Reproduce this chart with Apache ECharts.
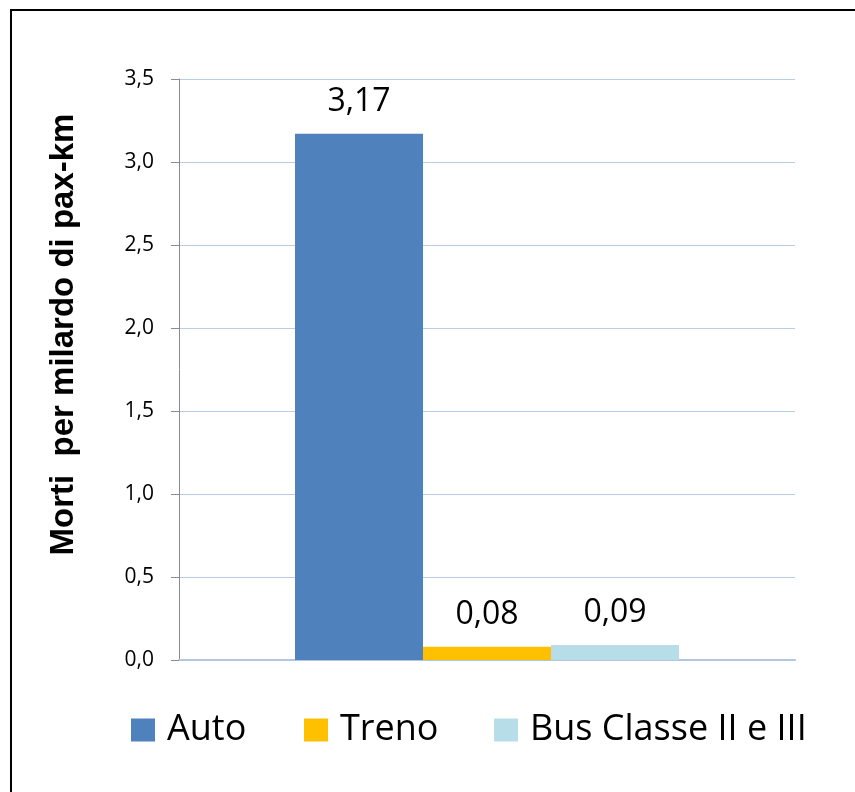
<!DOCTYPE html>
<html>
<head>
<meta charset="utf-8">
<script src="https://cdn.jsdelivr.net/npm/echarts@6/dist/echarts.min.js"></script>
<style>html,body{margin:0;padding:0;background:#fff}#c{width:855px;height:792px}</style>
</head>
<body>
<div id="c"></div>
<script>
var categories = [''];
var seriesNames = ['Auto', 'Treno', 'Bus Classe II e III'];
var autoValues = [3.17];
var trenoValues = [0.08];
var busValues = [0.09];
var yAxisName = 'Morti  per milardo di pax-km';
var colors = ['#4f81bd', '#ffc000', '#b7dde8'];
var legendLefts = [131, 304, 494];

var chart = echarts.init(document.getElementById('c'));
var valuesList = [autoValues, trenoValues, busValues];
function fmt(v) { return v.toFixed(2).replace('.', ','); }
var series = seriesNames.map(function (n, i) {
  return {
    name: n, type: 'bar', data: valuesList[i], barWidth: 128, barGap: '0%',
    itemStyle: { color: colors[i] },
    label: { show: true, position: 'top', distance: 16, color: '#000',
      fontFamily: 'Open Sans', fontSize: 32,
      formatter: function (p) { return fmt(p.value); } }
  };
});
var legends = seriesNames.map(function (n, i) {
  return {
    data: [n], left: legendLefts[i], top: 712, itemWidth: 24, itemHeight: 23,
    icon: 'rect', itemGap: 0, padding: 0,
    textStyle: { fontFamily: 'Open Sans', fontSize: 36, color: '#000', padding: [0, 0, 0, 7] },
    selectedMode: false
  };
});
chart.setOption({
  animation: false,
  graphic: [{ type: 'rect', shape: { x: 11, y: 10, width: 1000, height: 1000 },
    style: { fill: 'none', stroke: '#000', lineWidth: 2 } }],
  legend: legends,
  grid: { left: 179, right: 60, top: 79, bottom: 132 },
  xAxis: { type: 'category', data: categories,
    axisLine: { lineStyle: { color: '#b3c6e0', width: 2 } },
    axisTick: { show: false }, axisLabel: { show: false } },
  yAxis: { type: 'value', min: 0, max: 3.5, interval: 0.5,
    name: yAxisName, nameLocation: 'middle', nameGap: 99,
    nameTextStyle: { fontFamily: 'Liberation Sans', fontWeight: 'bold', fontSize: 33, color: '#000',
      padding: [0, 0, 0, 70] },
    axisLine: { show: true, lineStyle: { color: '#8c8c8c', width: 1 } },
    axisTick: { show: true, length: 8, lineStyle: { color: '#8c8c8c' } },
    axisLabel: { margin: 25, fontFamily: 'Open Sans', fontSize: 21, color: '#000',
      formatter: function (v) { return v.toFixed(1).replace('.', ','); } },
    splitLine: { lineStyle: { color: '#b9cde5', width: 1 } } },
  series: series
});
</script>
</body>
</html>
